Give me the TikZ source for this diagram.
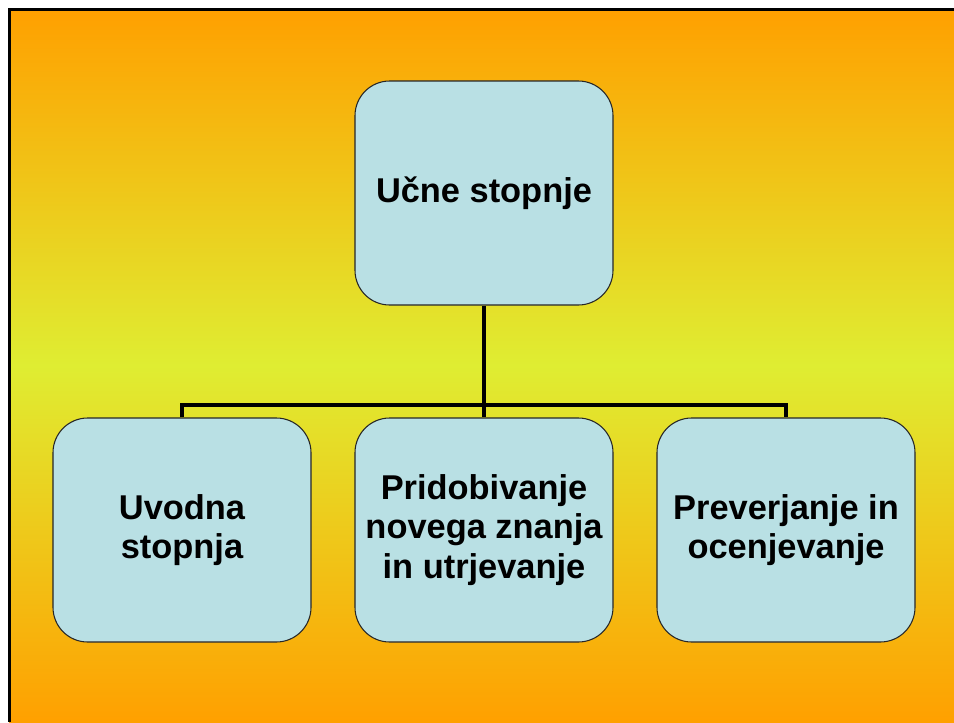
\documentclass[tikz,border=0pt]{standalone}
\usepackage{fontspec}
\setmainfont{Liberation Sans}
\usepackage{tikz}
\usetikzlibrary{calc}
\usetikzlibrary{positioning}

\definecolor{slideorange}{RGB}{255,160,0}
\definecolor{slidelime}{RGB}{223,237,50}
\definecolor{boxblue}{RGB}{185,224,228}

\tikzset{
  stopnja/.style={rectangle, rounded corners=26pt, draw=black!85, line width=0.8pt,
    fill=boxblue, minimum width=193.5pt, minimum height=168pt, align=center,
    font=\bfseries\fontsize{25.8pt}{29.5pt}\selectfont},
  veja/.style={draw=black, line width=2.3pt}
}

\begin{document}
\begin{tikzpicture}[x=0.75pt, y=-0.75pt]
\useasboundingbox (0,0) rectangle (954,722);
\fill [top color=slideorange, bottom color=slideorange, middle color=slidelime] (9,9) rectangle (954,722);
\draw [line width=2pt, draw=black] (9.5,722) -- (9.5,9.5) -- (954,9.5);

\node [stopnja] (ucne) at (484, 193) {U\v{c}ne stopnje};
\node [stopnja] (uvod) at (182, 530) {Uvodna\\stopnja};
\node [stopnja] (prid) at (484, 530) {Pridobivanje\\novega znanja\\in utrjevanje};
\node [stopnja] (prever) at (786, 530) {Preverjanje in\\ocenjevanje};

\coordinate (bus) at (484, 405);
\draw [veja] (ucne.south) -- (bus);
\draw [veja] (uvod.north) -- (uvod.north |- bus) -- (prever.north |- bus) -- (prever.north);
\draw [veja] (bus) -- (prid.north);
\end{tikzpicture}
\end{document}
